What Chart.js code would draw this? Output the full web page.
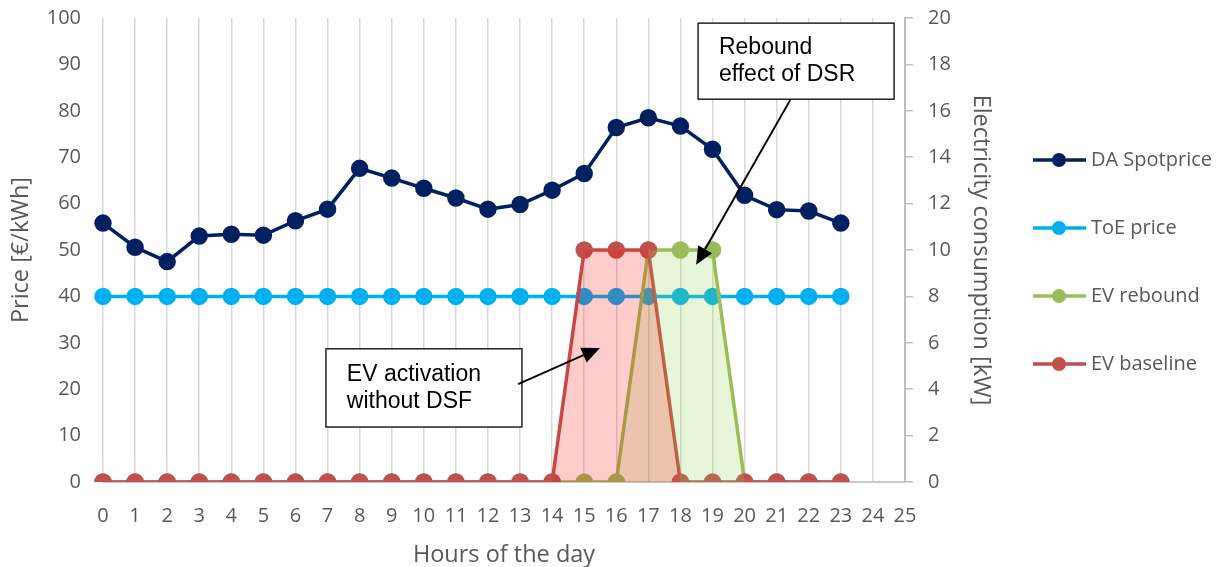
<!DOCTYPE html>
<html>
<head>
<meta charset="utf-8">
<script src="https://cdn.jsdelivr.net/npm/chart.js@4.4.1/dist/chart.umd.min.js"></script>
<style>
  body { margin: 0; background: #fff; }
</style>
</head>
<body>
<canvas id="chart" width="1228" height="567"></canvas>
<script>
// hours on the x axis (ticks go to 25, data stops at 23)
const hours = [0, 1, 2, 3, 4, 5, 6, 7, 8, 9, 10, 11, 12, 13, 14, 15, 16, 17, 18, 19, 20, 21, 22, 23, 24, 25];

// price series [€/kWh]
const daSpotprice = [55.8, 50.6, 47.5, 53.0, 53.4, 53.2, 56.3, 58.8, 67.6, 65.5, 63.3, 61.2, 58.8, 59.8, 62.9, 66.5, 76.4, 78.5, 76.7, 71.7, 61.8, 58.7, 58.4, 55.8];
const toePrice = [40, 40, 40, 40, 40, 40, 40, 40, 40, 40, 40, 40, 40, 40, 40, 40, 40, 40, 40, 40, 40, 40, 40, 40];

// consumption series [kW]
const evRebound = [0, 0, 0, 0, 0, 0, 0, 0, 0, 0, 0, 0, 0, 0, 0, 0, 0, 10, 10, 10, 0, 0, 0, 0];
const evBaseline = [0, 0, 0, 0, 0, 0, 0, 0, 0, 0, 0, 0, 0, 0, 0, 10, 10, 10, 0, 0, 0, 0, 0, 0];

const priceTicks = [0, 10, 20, 30, 40, 50, 60, 70, 80, 90, 100];
const powerTicks = [0, 2, 4, 6, 8, 10, 12, 14, 16, 18, 20];

const grey = '#595959';
const tickFont = { family: 'Open Sans', size: 20 };
const titleFont = { family: 'Open Sans', size: 23.5, lineHeight: 1 };

// text boxes with arrows, positioned in axis units (x = hour, y = price)
const callouts = [
    { box: [18.55, 98.9, 24.66, 82.5], lines: ['Rebound', 'effect of DSR'], textX: 19.2, textY: [93.7, 87.7],
      from: [21.42, 82.3], to: [18.49, 46.8] },
    { box: [6.95, 28.7, 13.06, 11.85], lines: ['EV activation', 'without DSF'], textX: 7.6, textY: [23.1, 17.3],
      from: [12.94, 21.1], to: [15.49, 28.9] }
];

const calloutPlugin = {
    id: 'callouts',
    afterDatasetsDraw(chart) {
        const ctx = chart.ctx, xs = chart.scales.x, ys = chart.scales.y;
        ctx.save();
        callouts.forEach(c => {
            const x1 = xs.getPixelForValue(c.box[0]), y1 = ys.getPixelForValue(c.box[1]);
            const x2 = xs.getPixelForValue(c.box[2]), y2 = ys.getPixelForValue(c.box[3]);
            ctx.fillStyle = '#fff';
            ctx.fillRect(x1, y1, x2 - x1, y2 - y1);
            ctx.strokeStyle = '#000';
            ctx.lineWidth = 1.3;
            ctx.strokeRect(x1, y1, x2 - x1, y2 - y1);
            ctx.fillStyle = '#000';
            ctx.font = '23px "Liberation Sans", Arial, sans-serif';
            ctx.textBaseline = 'middle';
            ctx.textAlign = 'left';
            c.lines.forEach((t, i) => {
                ctx.fillText(t, xs.getPixelForValue(c.textX), ys.getPixelForValue(c.textY[i]));
            });
            // arrow
            const fx = xs.getPixelForValue(c.from[0]), fy = ys.getPixelForValue(c.from[1]);
            const tx = xs.getPixelForValue(c.to[0]), ty = ys.getPixelForValue(c.to[1]);
            const ang = Math.atan2(ty - fy, tx - fx);
            const hl = 18, hw = 8;
            const bx = tx - hl * Math.cos(ang), by = ty - hl * Math.sin(ang);
            ctx.beginPath();
            ctx.moveTo(fx, fy);
            ctx.lineTo(bx, by);
            ctx.lineWidth = 2;
            ctx.stroke();
            ctx.beginPath();
            ctx.moveTo(tx, ty);
            ctx.lineTo(bx + hw * Math.sin(ang), by - hw * Math.cos(ang));
            ctx.lineTo(bx - hw * Math.sin(ang), by + hw * Math.cos(ang));
            ctx.closePath();
            ctx.fill();
        });
        ctx.restore();
    }
};

// legend on the right: line + marker + label, one per series
const legendPlugin = {
    id: 'sideLegend',
    afterDraw(chart) {
        const ctx = chart.ctx;
        const rows = [160, 228, 296, 364];
        ctx.save();
        for (let i = 0; i < 4; i++) {
            const ds = chart.data.datasets[i];
            const y = rows[i];
            ctx.strokeStyle = ds.borderColor;
            ctx.lineWidth = 3.5;
            ctx.beginPath();
            ctx.moveTo(1033, y);
            ctx.lineTo(1086, y);
            ctx.stroke();
            ctx.fillStyle = ds.pointBackgroundColor;
            ctx.beginPath();
            ctx.arc(1059, y, 7, 0, Math.PI * 2);
            ctx.fill();
            ctx.fillStyle = grey;
            ctx.font = '20px "Open Sans"';
            ctx.textBaseline = 'middle';
            ctx.fillText(ds.label, 1091, y);
        }
        ctx.restore();
    }
};

function lineSet(label, data, color, axis, order) {
    return {
        label: label,
        data: data,
        yAxisID: axis,
        order: order,
        borderColor: color,
        backgroundColor: color,
        pointBackgroundColor: color,
        pointBorderColor: color,
        borderWidth: 3.5,
        pointRadius: 7,
        tension: 0,
        fill: false
    };
}

function fillSet(data, color, order) {
    return {
        label: '',
        data: data,
        yAxisID: 'y1',
        order: order,
        borderWidth: 0,
        borderColor: 'rgba(0,0,0,0)',
        backgroundColor: color,
        pointRadius: 0,
        fill: 'origin'
    };
}

new Chart(document.getElementById('chart'), {
    type: 'line',
    data: {
        labels: hours,
        datasets: [
            lineSet('DA Spotprice', daSpotprice, '#002060', 'y', 5),
            lineSet('ToE price', toePrice, '#00b0f0', 'y', 4),
            lineSet('EV rebound', evRebound, '#9bbb59', 'y1', 3),
            lineSet('EV baseline', evBaseline, '#c0504d', 'y1', 2),
            fillSet(evRebound, 'rgba(146, 208, 80, 0.22)', 1),
            fillSet(evBaseline, 'rgba(255, 0, 0, 0.2)', 0)
        ]
    },
    options: {
        responsive: false,
        animation: false,
        layout: { padding: { top: 18, right: 218, left: 0, bottom: 0 } },
        plugins: {
            legend: { display: false },
            tooltip: { enabled: false }
        },
        scales: {
            x: {
                offset: false,
                grid: { color: '#d9d9d9', lineWidth: 1.5, drawTicks: false },
                border: { display: true, color: '#c8c8c8', width: 2 },
                ticks: { color: grey, font: tickFont, padding: 22, maxRotation: 0, autoSkip: false },
                title: { display: true, text: 'Hours of the day', color: grey, font: titleFont, padding: { top: 0, bottom: 0 } },
                afterFit: s => { s.height = 85; s.paddingLeft = 0; s.paddingRight = 0; }
            },
            y: {
                position: 'left',
                min: 0,
                max: 100,
                afterBuildTicks: s => { s.ticks = priceTicks.map(v => ({ value: v })); },
                grid: { display: false, drawTicks: false },
                border: { display: false },
                ticks: { color: grey, font: tickFont, padding: 22 },
                title: { display: true, text: 'Price [€/kWh]', color: grey, font: titleFont, padding: { top: 10, bottom: 0 } },
                afterFit: s => { s.width = 103; s.paddingTop = 0; s.paddingBottom = 0; }
            },
            y1: {
                position: 'right',
                min: 0,
                max: 20,
                afterBuildTicks: s => { s.ticks = powerTicks.map(v => ({ value: v })); },
                grid: { drawOnChartArea: false, drawTicks: true, tickLength: 8, color: '#bfbfbf', lineWidth: 1.5 },
                border: { display: true, color: '#bfbfbf', width: 2 },
                ticks: { color: grey, font: tickFont, padding: 15 },
                title: { display: true, text: 'Electricity consumption [kW]', color: grey, font: titleFont, padding: { top: 18, bottom: 0 } },
                afterFit: s => { s.width = 105; s.paddingTop = 0; s.paddingBottom = 0; }
            }
        }
    },
    plugins: [calloutPlugin, legendPlugin]
});
</script>
</body>
</html>
